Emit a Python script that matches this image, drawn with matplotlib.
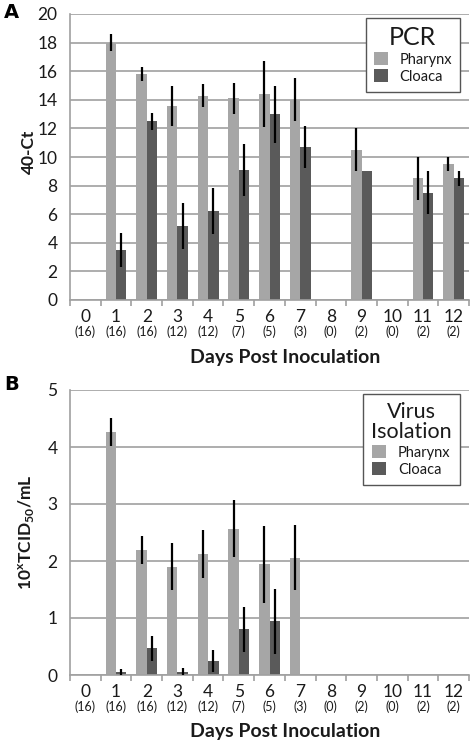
import numpy as np
import matplotlib.pyplot as plt

plt.rcParams['font.family'] = ['Lato', 'DejaVu Sans']
plt.rcParams['mathtext.fontset'] = 'custom'
plt.rcParams['mathtext.rm'] = 'Lato'
plt.rcParams['mathtext.bf'] = 'Lato:bold'

days = list(range(13))
counts = [16, 16, 16, 12, 12, 7, 5, 3, 0, 2, 0, 2, 2]

# PCR (40-Ct); NaN = no bar
pcr_ph = [np.nan, 18.0, 15.8, 13.6, 14.3, 14.1, 14.4, 14.0, np.nan, 10.5, np.nan, 8.5, 9.5]
pcr_ph_err = [0, 0.6, 0.5, 1.4, 0.8, 1.1, 2.3, 1.5, 0, 1.5, 0, 1.5, 0.5]
pcr_cl = [np.nan, 3.5, 12.5, 5.2, 6.2, 9.1, 13.0, 10.7, np.nan, 9.0, np.nan, 7.5, 8.5]
pcr_cl_err = [0, 1.2, 0.6, 1.6, 1.6, 1.8, 2.0, 1.45, 0, 0, 0, 1.5, 0.5]

# Virus isolation (log10 TCID50/mL)
vi_ph = [np.nan, 4.26, 2.19, 1.90, 2.12, 2.57, 1.94, 2.06, np.nan, np.nan, np.nan, np.nan, np.nan]
vi_ph_err = [0, 0.25, 0.24, 0.41, 0.42, 0.5, 0.67, 0.57, 0, 0, 0, 0, 0]
vi_cl = [np.nan, 0.05, 0.47, 0.06, 0.25, 0.80, 0.94, np.nan, np.nan, np.nan, np.nan, np.nan, np.nan]
vi_cl_err = [0, 0.05, 0.22, 0.06, 0.19, 0.39, 0.57, 0, 0, 0, 0, 0, 0]

c_ph = '#a6a6a6'
c_cl = '#5a5a5a'
grid_c = '#a0a0a0'
txt_c = '#1a1a1a'
W, H = 472, 742


def draw_panel(ax, ph, ph_err, cl, cl_err, ymax, ystep, title):
    x = np.array(days)
    w = 0.34
    ax.bar(x - w / 2, ph, w, color=c_ph, label='Pharynx', zorder=2)
    ax.bar(x + w / 2, cl, w, color=c_cl, label='Cloaca', zorder=2)
    ph_a = np.array(ph)
    cl_a = np.array(cl)
    m = ~np.isnan(ph_a) & (np.array(ph_err) > 0)
    ax.errorbar(x[m] - w / 2, ph_a[m], yerr=np.array(ph_err)[m], fmt='none',
                ecolor='black', elinewidth=1.6, capsize=0, zorder=3)
    m = ~np.isnan(cl_a) & (np.array(cl_err) > 0)
    ax.errorbar(x[m] + w / 2, cl_a[m], yerr=np.array(cl_err)[m], fmt='none',
                ecolor='black', elinewidth=1.6, capsize=0, zorder=3)
    ax.set_xlim(-0.5, 12.5)
    ax.set_ylim(0, ymax)
    ax.set_yticks(np.arange(0, ymax + 0.001, ystep))
    ax.yaxis.grid(True, color=grid_c, linewidth=1.2, zorder=0)
    ax.set_axisbelow(True)
    for s in ['top', 'right']:
        ax.spines[s].set_visible(False)
    for s in ['left', 'bottom']:
        ax.spines[s].set_color(grid_c)
        ax.spines[s].set_linewidth(1.2)
    ax.tick_params(axis='y', length=0, labelsize=12.5, pad=9, labelcolor=txt_c)
    ax.set_xticks(days)
    ax.set_xticklabels([])
    ax.tick_params(axis='x', which='major', length=0)
    ax.set_xticks(np.arange(-0.5, 13, 1), minor=True)
    ax.tick_params(axis='x', which='minor', length=4, width=1.2, color=grid_c)
    for d, n in zip(days, counts):
        ax.annotate(str(d), xy=(d, 0), xycoords=('data', 'axes fraction'),
                    xytext=(0, -12), textcoords='offset points',
                    ha='center', va='center', fontsize=12.5, color=txt_c)
        ax.annotate('(%d)' % n, xy=(d, 0), xycoords=('data', 'axes fraction'),
                    xytext=(0, -23), textcoords='offset points',
                    ha='center', va='center', fontsize=9, color=txt_c)
    leg = ax.legend(loc='upper right', bbox_to_anchor=(0.977, 0.985), title=title,
                    fancybox=False, framealpha=1, edgecolor='#555555',
                    handlelength=0.95, handleheight=0.95, fontsize=10.5,
                    borderpad=0.55, labelspacing=0.2, handletextpad=0.8,
                    borderaxespad=0)
    leg.get_frame().set_linewidth(1.0)
    leg.get_title().set_fontsize(18 if '\n' not in title else 15.5)
    leg.get_title().set_linespacing(1.0)
    leg.get_title().set_ha('center')
    leg.get_title().set_color(txt_c)
    for t in leg.get_texts():
        t.set_color(txt_c)


fig = plt.figure(figsize=(W / 100, H / 100), dpi=100)
axA = fig.add_axes([70 / W, 1 - 300 / H, 399 / W, 286 / H])
axB = fig.add_axes([70 / W, 1 - 675 / H, 399 / W, 285 / H])

draw_panel(axA, pcr_ph, pcr_ph_err, pcr_cl, pcr_cl_err, 20, 2, 'PCR')
draw_panel(axB, vi_ph, vi_ph_err, vi_cl, vi_cl_err, 5, 1, 'Virus\nIsolation')

fig.text(285 / W, 1 - 357 / H, 'Days Post Inoculation', ha='center', va='center',
         fontsize=14, fontweight='bold', color=txt_c)
fig.text(285 / W, 1 - 731 / H, 'Days Post Inoculation', ha='center', va='center',
         fontsize=14, fontweight='bold', color=txt_c)
fig.text(29 / W, 1 - 152 / H, '40-Ct', ha='center', va='center', rotation=90,
         fontsize=12.5, fontweight='bold', color=txt_c)
fig.text(27 / W, 1 - 532 / H, r'10$^\mathbf{x}$TCID$_\mathbf{50}$/mL', ha='center', va='center',
         rotation=90, fontsize=12.5, fontweight='bold', color=txt_c)
fig.text(4 / W, 1 - 13 / H, 'A', ha='left', va='center', fontsize=14,
         fontweight='bold', family='DejaVu Sans')
fig.text(4 / W, 1 - 385 / H, 'B', ha='left', va='center', fontsize=14,
         fontweight='bold', family='DejaVu Sans')

fig.savefig('out.png', dpi=100)
